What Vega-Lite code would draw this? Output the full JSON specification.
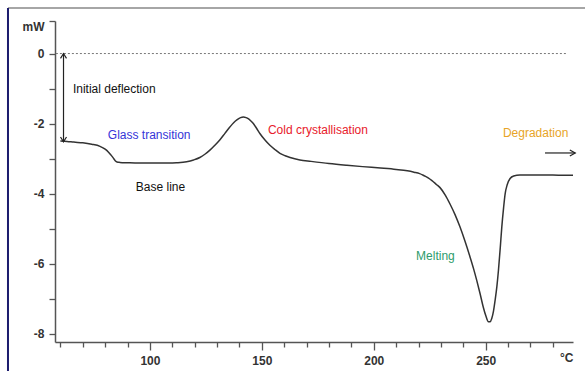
{
  "$schema": "https://vega.github.io/schema/vega-lite/v6.json",
  "autosize": {"type": "none"},
  "width": 518,
  "height": 321,
  "padding": {"left": 55, "top": 21, "right": 12, "bottom": 29},
  "background": "white",
  "config": {
    "view": {"stroke": null},
    "axis": {
      "grid": false,
      "domainColor": "#555",
      "domainWidth": 1.5,
      "tickColor": "#555",
      "tickWidth": 1.3,
      "labelFont": "Liberation Sans",
      "labelFontWeight": "bold",
      "labelFontSize": 12,
      "labelColor": "#333",
      "labelOverlap": false,
      "labelBound": false,
      "labelFlush": false,
      "title": null
    },
    "text": {"font": "Liberation Sans", "fontSize": 12}
  },
  "datasets": {
    "curve": [
      {"t": 60, "mw": -2.5}, {"t": 63, "mw": -2.51}, {"t": 66, "mw": -2.53}, {"t": 70, "mw": -2.55},
      {"t": 74, "mw": -2.59}, {"t": 77.7, "mw": -2.65}, {"t": 80, "mw": -2.73}, {"t": 81.4, "mw": -2.81},
      {"t": 82.6, "mw": -2.9}, {"t": 83.6, "mw": -2.98}, {"t": 84.5, "mw": -3.06}, {"t": 85.3, "mw": -3.1},
      {"t": 86.6, "mw": -3.11}, {"t": 90, "mw": -3.12}, {"t": 95, "mw": -3.13}, {"t": 100, "mw": -3.13},
      {"t": 105, "mw": -3.13}, {"t": 108.9, "mw": -3.13}, {"t": 112, "mw": -3.12}, {"t": 116.4, "mw": -3.09},
      {"t": 119.5, "mw": -3.04}, {"t": 122.3, "mw": -2.97}, {"t": 124.7, "mw": -2.87}, {"t": 126.8, "mw": -2.76},
      {"t": 129, "mw": -2.62}, {"t": 131.3, "mw": -2.46}, {"t": 133.5, "mw": -2.28}, {"t": 135.7, "mw": -2.1},
      {"t": 137.5, "mw": -1.97}, {"t": 139, "mw": -1.89}, {"t": 140.5, "mw": -1.83}, {"t": 141.7, "mw": -1.81},
      {"t": 143, "mw": -1.83}, {"t": 143.9, "mw": -1.86}, {"t": 145, "mw": -1.92}, {"t": 146.2, "mw": -2.0},
      {"t": 147.7, "mw": -2.14}, {"t": 149.2, "mw": -2.29}, {"t": 151.4, "mw": -2.47}, {"t": 153.6, "mw": -2.62},
      {"t": 155.8, "mw": -2.74}, {"t": 158.1, "mw": -2.85}, {"t": 160.4, "mw": -2.92}, {"t": 162.6, "mw": -2.97},
      {"t": 167, "mw": -3.04}, {"t": 172, "mw": -3.08}, {"t": 180, "mw": -3.14}, {"t": 188, "mw": -3.19},
      {"t": 195, "mw": -3.23}, {"t": 203, "mw": -3.27}, {"t": 210, "mw": -3.31}, {"t": 215, "mw": -3.35},
      {"t": 218, "mw": -3.39}, {"t": 220.5, "mw": -3.43}, {"t": 222.5, "mw": -3.49}, {"t": 224.3, "mw": -3.55},
      {"t": 226, "mw": -3.63}, {"t": 228, "mw": -3.74}, {"t": 229.6, "mw": -3.83}, {"t": 232, "mw": -4.05},
      {"t": 234, "mw": -4.29}, {"t": 236.3, "mw": -4.6}, {"t": 238.5, "mw": -4.95}, {"t": 240.8, "mw": -5.37},
      {"t": 243, "mw": -5.81}, {"t": 244.6, "mw": -6.15}, {"t": 246, "mw": -6.48}, {"t": 247.5, "mw": -6.86},
      {"t": 248.9, "mw": -7.24}, {"t": 250.1, "mw": -7.5}, {"t": 251.2, "mw": -7.66}, {"t": 252, "mw": -7.66},
      {"t": 252.7, "mw": -7.57}, {"t": 253.5, "mw": -7.35}, {"t": 254.2, "mw": -7.05}, {"t": 255, "mw": -6.65},
      {"t": 255.7, "mw": -6.19}, {"t": 256.5, "mw": -5.55}, {"t": 257.2, "mw": -4.95}, {"t": 258, "mw": -4.4},
      {"t": 258.7, "mw": -4.0}, {"t": 259.6, "mw": -3.75}, {"t": 260.9, "mw": -3.57}, {"t": 262.5, "mw": -3.5},
      {"t": 265.3, "mw": -3.47}, {"t": 270, "mw": -3.47}, {"t": 275, "mw": -3.47}, {"t": 280, "mw": -3.47},
      {"t": 285, "mw": -3.48}, {"t": 289, "mw": -3.48}
    ],
    "labels": [
      {"label": "Initial deflection", "t": 65.6, "mw": -1.02},
      {"label": "Glass transition", "t": 81.2, "mw": -2.34},
      {"label": "Base line", "t": 93.7, "mw": -3.82},
      {"label": "Cold crystallisation", "t": 152.7, "mw": -2.17},
      {"label": "Degradation", "t": 257.7, "mw": -2.28},
      {"label": "Melting", "t": 218.9, "mw": -5.79}
    ],
    "hrules": [
      {"name": "frame", "t": 36.6, "t2": 320, "mw": 1.3},
      {"name": "zero", "t": 58, "t2": 286, "mw": 0},
      {"name": "arrow", "t": 276.5, "t2": 290, "mw": -2.84}
    ],
    "vrules": [
      {"name": "frame", "t": 36.6, "mw": 1.3, "mw2": -10},
      {"name": "arrow", "t": 61.4, "mw": 0, "mw2": -2.52}
    ],
    "heads": [
      {"dir": "up", "t": 61.4, "mw": 0},
      {"dir": "down", "t": 61.4, "mw": -2.52},
      {"dir": "right", "t": 290, "mw": -2.84}
    ]
  },
  "encoding": {
    "x": {
      "field": "t", "type": "quantitative",
      "scale": {"domain": [57.6, 289], "nice": false, "zero": false},
      "axis": {
        "values": [60, 70, 80, 90, 100, 110, 120, 130, 140, 150, 160, 170, 180, 190, 200, 210, 220, 230, 240, 250, 260, 270, 280, 286],
        "labelExpr": "datum.value == 286 ? '°C' : (datum.value % 50 == 0 ? '' + datum.value : '')",
        "tickSize": {"condition": {"test": "datum.value % 50 == 0", "value": 8}, "value": 5},
        "tickOpacity": {"condition": {"test": "datum.value == 286", "value": 0}, "value": 1},
        "labelPadding": 5
      }
    },
    "y": {
      "field": "mw", "type": "quantitative",
      "scale": {"domain": [-8.24, 0.93], "nice": false, "zero": false},
      "axis": {
        "values": [-8, -7, -6, -5, -4, -3, -2, -1, 0, 0.93],
        "labelExpr": "datum.value > 0.5 ? 'mW' : (datum.value % 2 == 0 ? '' + datum.value : '')",
        "labelBaseline": {"condition": {"test": "datum.value > 0.5", "value": "top"}, "value": "middle"},
        "tickSize": 6,
        "labelPadding": 5
      }
    }
  },
  "layer": [
    {
      "data": {"name": "hrules"},
      "transform": [{"filter": "datum.name == 'frame'"}],
      "mark": {"type": "rule", "color": "#888", "strokeWidth": 1.5},
      "encoding": {"x2": {"field": "t2"}}
    },
    {
      "data": {"name": "vrules"},
      "transform": [{"filter": "datum.name == 'frame'"}],
      "mark": {"type": "rule", "color": "#1c1c6e", "strokeWidth": 2},
      "encoding": {"y2": {"field": "mw2"}}
    },
    {
      "data": {"name": "hrules"},
      "transform": [{"filter": "datum.name == 'zero'"}],
      "mark": {"type": "rule", "color": "#777", "strokeWidth": 1, "strokeDash": [2, 2]},
      "encoding": {"x2": {"field": "t2"}}
    },
    {
      "data": {"name": "curve"},
      "mark": {"type": "line", "color": "#333", "strokeWidth": 1.5, "interpolate": "monotone"},
      "encoding": {}
    },
    {
      "data": {"name": "hrules"},
      "transform": [{"filter": "datum.name == 'arrow'"}],
      "mark": {"type": "rule", "color": "#222", "strokeWidth": 1.2},
      "encoding": {"x2": {"field": "t2"}}
    },
    {
      "data": {"name": "vrules"},
      "transform": [{"filter": "datum.name == 'arrow'"}],
      "mark": {"type": "rule", "color": "#222", "strokeWidth": 1.2},
      "encoding": {"y2": {"field": "mw2"}}
    },
    {
      "data": {"name": "heads"},
      "mark": {"type": "point", "filled": false, "stroke": "#222", "strokeWidth": 1.2, "size": 36, "opacity": 1},
      "encoding": {
        "shape": {
          "field": "dir", "type": "nominal", "legend": null,
          "scale": {
            "domain": ["up", "down", "right"],
            "range": ["M-1,1.6L0,0L1,1.6", "M-1,-1.6L0,0L1,-1.6", "M-1.8,-1L0,0L-1.8,1"]
          }
        }
      }
    },
    {
      "data": {"name": "labels"},
      "mark": {"type": "text", "align": "left", "baseline": "middle"},
      "encoding": {
        "text": {"field": "label"},
        "color": {
          "field": "label", "type": "nominal", "legend": null,
          "scale": {
            "domain": ["Initial deflection", "Glass transition", "Base line", "Cold crystallisation", "Degradation", "Melting"],
            "range": ["#111111", "#3535d8", "#111111", "#e8202a", "#e8a426", "#2e9c6c"]
          }
        }
      }
    }
  ]
}
